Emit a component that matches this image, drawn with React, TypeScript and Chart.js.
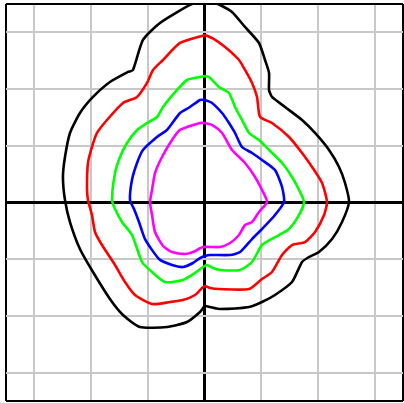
import React, { useEffect, useRef } from 'react';
import { Chart, registerables } from 'chart.js';

Chart.register(...registerables);

// Grid / axis tick positions (edges of the frame included)
const tickValues = [-3.5, -3, -2, -1, 0, 1, 2, 3, 3.5];

// Curve 1 (black, outermost)
const blackX = [0.01, -0.256, -0.785, -1.085, -1.261, -1.349, -1.667, -1.966, -2.196, -2.372, -2.46, -2.496, -2.46, -2.372, -2.196, -1.966, -1.667, -1.437, -1.138, -0.661, -0.309, -0.079, 0.009, 0.097, 0.256, 0.785, 1.014, 1.243, 1.543, 1.72, 1.843, 2.019, 2.249, 2.425, 2.548, 2.478, 2.372, 2.196, 1.949, 1.72, 1.42, 1.19, 1.138, 1.138, 1.067, 0.961, 0.714, 0.485, 0.273];
const blackY = [3.58, 3.483, 3.166, 2.866, 2.337, 2.302, 2.125, 1.861, 1.578, 1.226, 0.802, 0.45, 0.044, -0.344, -0.82, -1.226, -1.702, -1.984, -2.196, -2.196, -2.108, -1.931, -1.825, -1.843, -1.878, -1.843, -1.755, -1.631, -1.402, -1.049, -0.961, -0.873, -0.644, -0.344, 0.009, 0.344, 0.626, 0.926, 1.226, 1.455, 1.684, 1.861, 1.984, 2.284, 2.513, 2.813, 3.095, 3.36, 3.483];

// Curve 2 (red)
const redX = [0.009, -0.432, -0.732, -0.908, -1.014, -1.19, -1.437, -1.72, -1.896, -1.984, -2.055, -2.072, -2.055, -1.984, -1.931, -1.808, -1.578, -1.402, -1.226, -0.926, -0.608, -0.379, -0.168, -0.044, 0.009, 0.097, 0.256, 0.785, 1.014, 1.19, 1.367, 1.543, 1.772, 1.949, 2.108, 2.16, 2.072, 1.896, 1.72, 1.49, 1.19, 0.979, 0.926, 0.838, 0.714, 0.608, 0.362, 0.132];
const redY = [2.954, 2.813, 2.513, 2.337, 2.108, 1.861, 1.755, 1.455, 1.226, 0.979, 0.697, 0.273, 0.044, -0.22, -0.52, -0.75, -1.102, -1.402, -1.631, -1.79, -1.755, -1.72, -1.631, -1.508, -1.473, -1.508, -1.526, -1.526, -1.349, -1.226, -0.926, -0.75, -0.697, -0.52, -0.22, 0.009, 0.344, 0.626, 0.873, 1.155, 1.402, 1.508, 1.861, 2.108, 2.337, 2.513, 2.743, 2.901];

// Curve 3 (green)
const greenX = [0.009, -0.079, -0.309, -0.485, -0.732, -0.838, -1.014, -1.19, -1.367, -1.49, -1.578, -1.631, -1.578, -1.455, -1.279, -1.102, -0.926, -0.697, -0.379, -0.168, -0.026, 0.044, 0.15, 0.273, 0.626, 0.838, 1.014, 1.314, 1.49, 1.667, 1.755, 1.667, 1.543, 1.367, 1.138, 0.961, 0.785, 0.661, 0.538, 0.432, 0.256, 0.079];
const greenY = [2.231, 2.213, 2.16, 1.984, 1.684, 1.508, 1.402, 1.279, 1.049, 0.802, 0.52, 0.044, -0.115, -0.344, -0.573, -1.049, -1.226, -1.402, -1.367, -1.243, -1.138, -1.102, -1.155, -1.19, -1.19, -1.049, -0.75, -0.573, -0.467, -0.22, 0.009, 0.22, 0.45, 0.697, 0.926, 1.102, 1.226, 1.455, 1.684, 1.931, 2.037, 2.213];

// Curve 4 (blue)
const blueX = [0.009, -0.079, -0.256, -0.432, -0.661, -0.838, -1.085, -1.19, -1.279, -1.314, -1.243, -1.155, -1.049, -0.802, -0.573, -0.379, -0.203, -0.079, 0.009, 0.097, 0.45, 0.626, 0.838, 1.014, 1.243, 1.402, 1.367, 1.243, 1.014, 0.838, 0.661, 0.538, 0.432, 0.309, 0.132];
const blueY = [1.808, 1.808, 1.684, 1.578, 1.279, 1.155, 0.926, 0.697, 0.397, 0.044, -0.115, -0.344, -0.644, -0.996, -1.102, -1.138, -1.067, -0.979, -0.944, -0.926, -0.926, -0.873, -0.644, -0.467, -0.22, 0.009, 0.273, 0.573, 0.75, 0.873, 0.979, 1.226, 1.402, 1.578, 1.755];

// Curve 5 (magenta, innermost)
const magentaX = [0.009, -0.079, -0.432, -0.573, -0.75, -0.873, -0.926, -0.961, -0.926, -0.873, -0.732, -0.573, -0.344, -0.203, -0.026, 0.273, 0.45, 0.608, 0.714, 0.838, 0.961, 1.102, 1.014, 0.891, 0.714, 0.485, 0.309, 0.132];
const magentaY = [1.402, 1.402, 1.279, 1.102, 0.802, 0.52, 0.22, 0.009, -0.22, -0.52, -0.767, -0.873, -0.908, -0.873, -0.785, -0.785, -0.714, -0.573, -0.397, -0.344, -0.168, 0.009, 0.22, 0.45, 0.697, 0.926, 1.226, 1.367];

const seriesColors = ['#000000', '#ff0000', '#00ff00', '#0000ff', '#ff00ff'];
const seriesXs = [blackX, redX, greenX, blueX, magentaX];
const seriesYs = [blackY, redY, greenY, blueY, magentaY];

function toClosedPoints(xs: number[], ys: number[]) {
  const pts = xs.map((x, i) => ({ x, y: ys[i] }));
  pts.push(pts[0]);
  return pts;
}

const gridColor = (ctx: any) => {
  const v = ctx.tick ? ctx.tick.value : null;
  if (v === 0 || v === 3.5 || v === -3.5) return '#000000';
  return '#c8c8c8';
};
const gridWidth = (ctx: any) => {
  const v = ctx.tick ? ctx.tick.value : null;
  return v === 0 ? 3 : 2;
};

function makeScale() {
  return {
    type: 'linear' as const,
    min: -3.5,
    max: 3.5,
    afterBuildTicks: (scale: any) => {
      scale.ticks = tickValues.map((v) => ({ value: v }));
    },
    ticks: { display: false },
    grid: { color: gridColor, lineWidth: gridWidth, drawTicks: false },
    border: { display: false },
  };
}

export default function App() {
  const ref = useRef<HTMLCanvasElement>(null);
  useEffect(() => {
    if (!ref.current) return;
    const chart = new Chart(ref.current, {
      type: 'scatter',
      data: {
        datasets: seriesXs.map((xs, i) => ({
          data: toClosedPoints(xs, seriesYs[i]),
          showLine: true,
          borderColor: seriesColors[i],
          backgroundColor: seriesColors[i],
          borderWidth: 2.6,
          pointRadius: 0,
          fill: false,
          tension: 0.2,
        })),
      },
      options: {
        animation: false,
        responsive: false,
        plugins: { legend: { display: false }, tooltip: { enabled: false } },
        layout: { padding: { left: 6, right: 1, top: 4, bottom: 2 } },
        scales: { x: makeScale(), y: makeScale() } as any,
      },
    });
    return () => chart.destroy();
  }, []);
  return (
    <div style={{ position: 'absolute', left: 0, top: 0, width: 404, height: 403, background: '#fff' }}>
      <canvas ref={ref} width={404} height={403} style={{ display: 'block' }} />
    </div>
  );
}
